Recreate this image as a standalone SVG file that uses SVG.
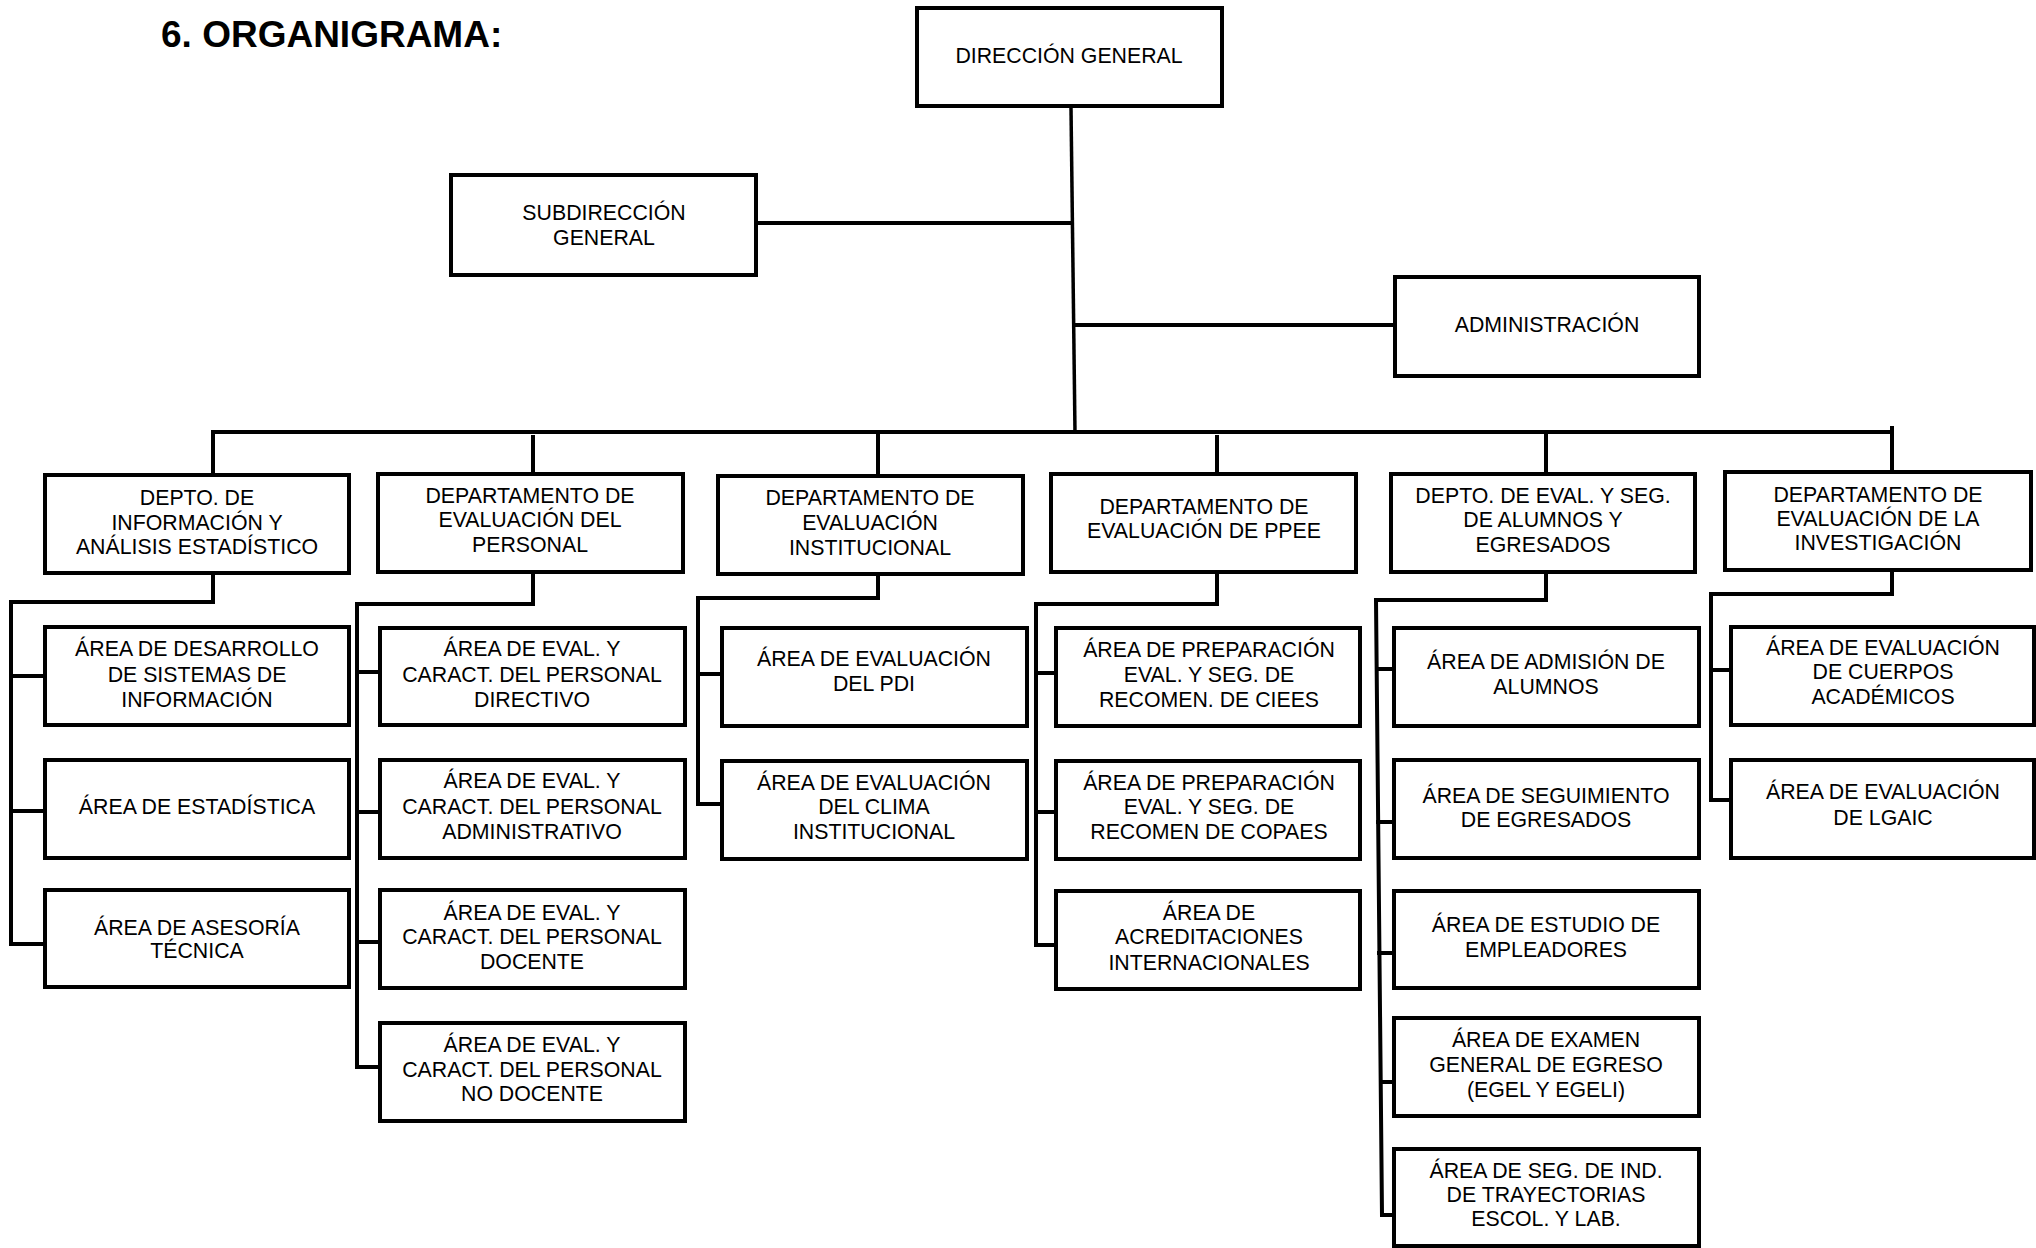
<svg xmlns="http://www.w3.org/2000/svg" width="2036" height="1248" viewBox="0 0 2036 1248">
<style>
.b{fill:#fff;stroke:#000;stroke-width:4}
.t{font-family:"Liberation Sans",Arial,sans-serif;font-size:21.3px;fill:#000;text-anchor:middle}
.c{fill:none;stroke:#000;stroke-width:4;stroke-linejoin:miter;stroke-linecap:square}
.m{fill:none;stroke:#000;stroke-width:3.5}
.title{font-family:"Liberation Sans",Arial,sans-serif;font-size:37px;font-weight:bold;fill:#000}
</style>
<rect width="2036" height="1248" fill="#fff"/>
<text class="title" x="161" y="47">6. ORGANIGRAMA:</text>

<g id="connectors">
<path class="m" d="M1071,108 L1075,432"/>
<path class="c" d="M758,223 H1072"/>
<path class="c" d="M1075,325 H1393"/>
<path class="c" d="M213,475 V432 H1892"/>
<path class="c" d="M1892,428 V470"/>
<path class="c" d="M533,437 V472"/>
<path class="c" d="M878,432 V474"/>
<path class="c" d="M1217,437 V472"/>
<path class="c" d="M1546,432 V472"/>
<!-- col1 -->
<path class="c" d="M213,575 V602 H11 V944 H43"/>
<path class="c" d="M11,676 H43 M11,811 H43"/>
<!-- col2 -->
<path class="c" d="M533,574 V604 H357 V1067 H378"/>
<path class="c" d="M357,672 H378 M357,812 H378 M357,942 H378"/>
<!-- col3 -->
<path class="c" d="M878,576 V598 H698 V804 H720"/>
<path class="c" d="M698,674 H720"/>
<!-- col4 -->
<path class="c" d="M1217,574 V604 H1036 V945 H1054"/>
<path class="c" d="M1036,673 H1054 M1036,812 H1054"/>
<!-- col5 -->
<path class="c" d="M1546,574 V600 H1376 L1382,1215 H1392"/>
<path class="c" d="M1377,669 H1392 M1378,822 H1392 M1379,953 H1392 M1381,1082 H1392"/>
<!-- col6 -->
<path class="c" d="M1892,572 V594 H1711 V800 H1730"/>
<path class="c" d="M1711,670 H1730"/>
</g>

<g id="direccion"><rect class="b" x="917" y="8" width="305" height="98"/><text class="t" x="1069" y="63">DIRECCIÓN GENERAL</text></g>
<g id="subdireccion"><rect class="b" x="451" y="175" width="305" height="100"/><text class="t"><tspan x="604" y="220">SUBDIRECCIÓN</tspan><tspan x="604" y="245">GENERAL</tspan></text></g>
<g id="administracion"><rect class="b" x="1395" y="277" width="304" height="99"/><text class="t" x="1547" y="332">ADMINISTRACIÓN</text></g>

<g id="dept1"><rect class="b" x="45" y="475" width="304" height="98"/><text class="t"><tspan x="197" y="505">DEPTO. DE</tspan><tspan x="197" y="530">INFORMACIÓN Y</tspan><tspan x="197" y="554">ANÁLISIS ESTADÍSTICO</tspan></text></g>
<g id="dept2"><rect class="b" x="378" y="474" width="305" height="98"/><text class="t"><tspan x="530" y="503">DEPARTAMENTO DE</tspan><tspan x="530" y="527">EVALUACIÓN DEL</tspan><tspan x="530" y="552">PERSONAL</tspan></text></g>
<g id="dept3"><rect class="b" x="718" y="476" width="305" height="98"/><text class="t"><tspan x="870" y="505">DEPARTAMENTO DE</tspan><tspan x="870" y="530">EVALUACIÓN</tspan><tspan x="870" y="555">INSTITUCIONAL</tspan></text></g>
<g id="dept4"><rect class="b" x="1051" y="474" width="305" height="98"/><text class="t"><tspan x="1204" y="514">DEPARTAMENTO DE</tspan><tspan x="1204" y="538">EVALUACIÓN DE PPEE</tspan></text></g>
<g id="dept5"><rect class="b" x="1391" y="474" width="304" height="98"/><text class="t"><tspan x="1543" y="503">DEPTO. DE EVAL. Y SEG.</tspan><tspan x="1543" y="527">DE ALUMNOS Y</tspan><tspan x="1543" y="552">EGRESADOS</tspan></text></g>
<g id="dept6"><rect class="b" x="1725" y="472" width="306" height="98"/><text class="t"><tspan x="1878" y="502">DEPARTAMENTO DE</tspan><tspan x="1878" y="526">EVALUACIÓN DE LA</tspan><tspan x="1878" y="550">INVESTIGACIÓN</tspan></text></g>

<g id="c1a"><rect class="b" x="45" y="627" width="304" height="98"/><text class="t"><tspan x="197" y="656">ÁREA DE DESARROLLO</tspan><tspan x="197" y="682">DE SISTEMAS DE</tspan><tspan x="197" y="707">INFORMACIÓN</tspan></text></g>
<g id="c1b"><rect class="b" x="45" y="760" width="304" height="98"/><text class="t" x="197" y="814">ÁREA DE ESTADÍSTICA</text></g>
<g id="c1c"><rect class="b" x="45" y="890" width="304" height="97"/><text class="t"><tspan x="197" y="935">ÁREA DE ASESORÍA</tspan><tspan x="197" y="958">TÉCNICA</tspan></text></g>

<g id="c2a"><rect class="b" x="380" y="628" width="305" height="97"/><text class="t"><tspan x="532" y="656">ÁREA DE EVAL. Y</tspan><tspan x="532" y="682">CARACT. DEL PERSONAL</tspan><tspan x="532" y="707">DIRECTIVO</tspan></text></g>
<g id="c2b"><rect class="b" x="380" y="760" width="305" height="98"/><text class="t"><tspan x="532" y="788">ÁREA DE EVAL. Y</tspan><tspan x="532" y="814">CARACT. DEL PERSONAL</tspan><tspan x="532" y="839">ADMINISTRATIVO</tspan></text></g>
<g id="c2c"><rect class="b" x="380" y="890" width="305" height="98"/><text class="t"><tspan x="532" y="920">ÁREA DE EVAL. Y</tspan><tspan x="532" y="944">CARACT. DEL PERSONAL</tspan><tspan x="532" y="969">DOCENTE</tspan></text></g>
<g id="c2d"><rect class="b" x="380" y="1023" width="305" height="98"/><text class="t"><tspan x="532" y="1052">ÁREA DE EVAL. Y</tspan><tspan x="532" y="1077">CARACT. DEL PERSONAL</tspan><tspan x="532" y="1101">NO DOCENTE</tspan></text></g>

<g id="c3a"><rect class="b" x="722" y="628" width="305" height="98"/><text class="t"><tspan x="874" y="666">ÁREA DE EVALUACIÓN</tspan><tspan x="874" y="691">DEL PDI</tspan></text></g>
<g id="c3b"><rect class="b" x="722" y="761" width="305" height="98"/><text class="t"><tspan x="874" y="790">ÁREA DE EVALUACIÓN</tspan><tspan x="874" y="814">DEL CLIMA</tspan><tspan x="874" y="839">INSTITUCIONAL</tspan></text></g>

<g id="c4a"><rect class="b" x="1056" y="628" width="304" height="98"/><text class="t"><tspan x="1209" y="657">ÁREA DE PREPARACIÓN</tspan><tspan x="1209" y="682">EVAL. Y SEG. DE</tspan><tspan x="1209" y="707">RECOMEN. DE CIEES</tspan></text></g>
<g id="c4b"><rect class="b" x="1056" y="761" width="304" height="98"/><text class="t"><tspan x="1209" y="790">ÁREA DE PREPARACIÓN</tspan><tspan x="1209" y="814">EVAL. Y SEG. DE</tspan><tspan x="1209" y="839">RECOMEN DE COPAES</tspan></text></g>
<g id="c4c"><rect class="b" x="1056" y="891" width="304" height="98"/><text class="t"><tspan x="1209" y="920">ÁREA DE</tspan><tspan x="1209" y="944">ACREDITACIONES</tspan><tspan x="1209" y="970">INTERNACIONALES</tspan></text></g>

<g id="c5a"><rect class="b" x="1394" y="628" width="305" height="98"/><text class="t"><tspan x="1546" y="669">ÁREA DE ADMISIÓN DE</tspan><tspan x="1546" y="694">ALUMNOS</tspan></text></g>
<g id="c5b"><rect class="b" x="1394" y="760" width="305" height="98"/><text class="t"><tspan x="1546" y="803">ÁREA DE SEGUIMIENTO</tspan><tspan x="1546" y="827">DE EGRESADOS</tspan></text></g>
<g id="c5c"><rect class="b" x="1394" y="891" width="305" height="97"/><text class="t"><tspan x="1546" y="932">ÁREA DE ESTUDIO DE</tspan><tspan x="1546" y="957">EMPLEADORES</tspan></text></g>
<g id="c5d"><rect class="b" x="1394" y="1018" width="305" height="98"/><text class="t"><tspan x="1546" y="1047">ÁREA DE EXAMEN</tspan><tspan x="1546" y="1072">GENERAL DE EGRESO</tspan><tspan x="1546" y="1097">(EGEL Y EGELI)</tspan></text></g>
<g id="c5e"><rect class="b" x="1394" y="1149" width="305" height="97"/><text class="t"><tspan x="1546" y="1178">ÁREA DE SEG. DE IND.</tspan><tspan x="1546" y="1202">DE TRAYECTORIAS</tspan><tspan x="1546" y="1226">ESCOL. Y LAB.</tspan></text></g>

<g id="c6a"><rect class="b" x="1731" y="627" width="303" height="98"/><text class="t"><tspan x="1883" y="655">ÁREA DE EVALUACIÓN</tspan><tspan x="1883" y="679">DE CUERPOS</tspan><tspan x="1883" y="704">ACADÉMICOS</tspan></text></g>
<g id="c6b"><rect class="b" x="1731" y="760" width="303" height="98"/><text class="t"><tspan x="1883" y="799">ÁREA DE EVALUACIÓN</tspan><tspan x="1883" y="825">DE LGAIC</tspan></text></g>
</svg>
